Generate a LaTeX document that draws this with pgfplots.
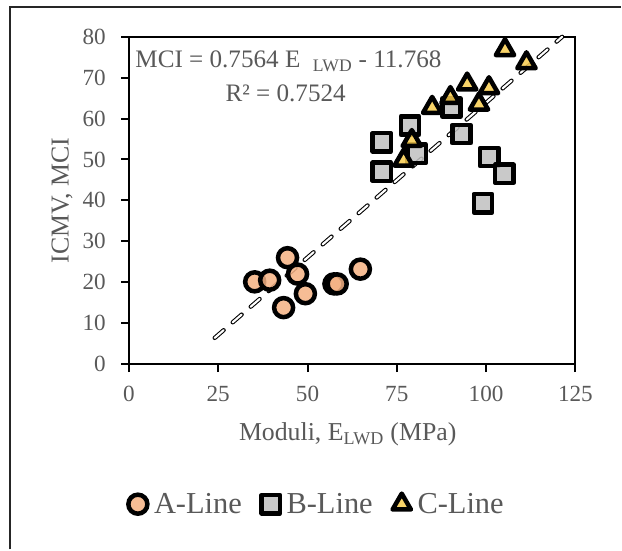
\documentclass[border=0pt]{standalone}
\usepackage{fontspec}
\setmainfont{Liberation Serif}
\usepackage{pgfplots}
\pgfplotsset{compat=1.18}
\definecolor{txt}{HTML}{595959}
\definecolor{cA}{HTML}{F4B183}
\definecolor{cB}{HTML}{BFBFBF}
\definecolor{cC}{HTML}{F7CB4D}
\begin{document}
\begin{tikzpicture}
\begin{axis}[
  scale only axis, width=337.5pt, height=247.5pt,
  xmin=0, xmax=125, ymin=0, ymax=80,
  xtick={0,25,...,125}, ytick={0,10,...,80},
  axis line style={line width=1.5pt, black},
  tick style={line width=1.5pt, black},
  tick align=outside, major tick length=6pt,
  xtick pos=bottom, ytick pos=left,
  /pgf/number format/assume math mode=true,
  ticklabel style={font=\fontsize{17.5}{20}\selectfont, text=txt},
  xticklabel style={yshift=-7pt},
  yticklabel style={xshift=-8pt},
  xlabel={Moduli, E\textsubscript{LWD} (MPa)},
  ylabel={ICMV, MCI},
  label style={font=\fontsize{19.5}{23}\selectfont, text=txt},
  xlabel style={at={(axis description cs:0.49,-0.215)}, anchor=center},
  ylabel style={at={(axis description cs:-0.15,0.5)}, anchor=center},
  legend columns=3,
  legend style={at={(axis description cs:0.422,-0.428)}, anchor=center, draw=none, fill=none,
    font=\fontsize{23}{27}\selectfont, text=txt,
    /tikz/every odd column/.append style={column sep=3pt},
    /tikz/every even column/.append style={column sep=13pt}},
  clip=false,
]
\addplot[only marks, mark=*, mark size=7.2pt,
  mark options={draw=black, line width=3.4pt, fill=cA, fill opacity=0.85}]
  coordinates {(35.2,20.1) (39.4,20.5) (44.4,26.0) (47.2,22.0) (43.3,13.8) (49.4,17.2) (57.4,19.6) (58.3,19.6) (64.8,23.2)};
\addlegendentry{A-Line}
\addplot[only marks, mark=square*, mark size=6.9pt,
  mark options={draw=black, line width=3.4pt, fill=cB, fill opacity=0.85, line join=round}]
  coordinates {(70.8,54.2) (78.7,58.3) (70.8,47.0) (80.6,51.4) (93.1,56.2) (100.9,50.6) (105.1,46.5) (99.1,39.3) (90.3,62.7)};
\addlegendentry{B-Line}
\addplot[only marks, mark=triangle*, mark size=8pt,
  mark options={draw=black, line width=3.4pt, fill=cC, fill opacity=0.85, line join=round}]
  coordinates {(105.3,76.8) (111.3,73.6) (94.7,68.4) (100.8,67.5) (90.0,65.1) (84.9,62.7) (98.0,63.5) (79.2,54.6) (76.9,49.8)};
\addlegendentry{C-Line}
\addplot[forget plot, black, line width=0.8pt, double=white, double distance=1.6pt,
  line cap=round, dash pattern=on 9pt off 9pt]
  coordinates {(24,6.386) (121.3,79.98)};
\node[anchor=west, text=txt, font=\fontsize{19}{22}\selectfont] at (axis description cs:0.004,0.924)
  {MCI = 0.7564 E\ \ \textsubscript{LWD} - 11.768};
\node[text=txt, font=\fontsize{19}{22}\selectfont] at (axis description cs:0.351,0.826)
  {R² = 0.7524};
\end{axis}
\pgfresetboundingbox
\path (-97.5pt,-137.25pt) rectangle (369pt,275.25pt);
\draw[black!85, line width=1.5pt] (-90pt,-140pt) -- (-90pt,270pt) -- (372pt,270pt);
\end{tikzpicture}
\end{document}
